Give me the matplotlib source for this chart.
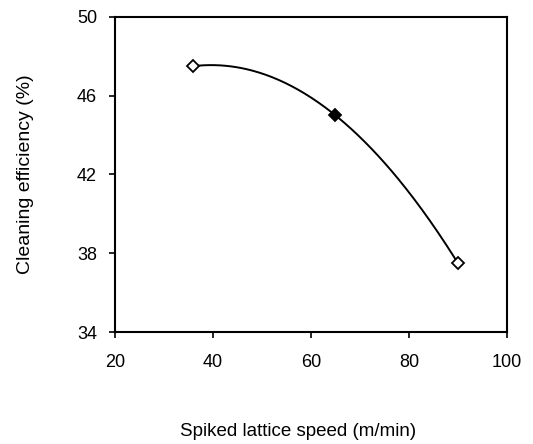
import numpy as np
import matplotlib.pyplot as plt

plt.rcParams['font.family'] = ['Liberation Sans', 'DejaVu Sans']

speed = [36, 65, 90]
efficiency = [47.5, 45.0, 37.5]
filled = [False, True, False]
xticks = [20, 40, 60, 80, 100]
yticks = [34, 38, 42, 46, 50]

fig = plt.figure(figsize=(5.33, 4.44), dpi=100)
ax = fig.add_axes([0.216, 0.252, 0.735, 0.71])

# quadratic trend line through the measured points
coef = np.polyfit(speed, efficiency, 2)
xs = np.linspace(speed[0], speed[-1], 200)
ax.plot(xs, np.polyval(coef, xs), color='black', lw=1.4)

for x, y, f in zip(speed, efficiency, filled):
    ax.plot(x, y, marker='D', ms=6, mec='black', mew=1.3,
            mfc='black' if f else 'white', zorder=3)

ax.set_xlim(20, 100)
ax.set_ylim(34, 50)
ax.set_xticks(xticks)
ax.set_yticks(yticks)
ax.tick_params(labelsize=13, direction='out', length=4, width=1.2)
ax.tick_params(axis='x', pad=12)
ax.tick_params(axis='y', pad=9)
for s in ax.spines.values():
    s.set_linewidth(1.5)

fig.text(0.56, 0.018, 'Spiked lattice speed (m/min)', ha='center', fontsize=13.5)
fig.text(0.032, 0.607, 'Cleaning efficiency (%)', va='center', rotation=90, fontsize=14)

fig.savefig('out.png', dpi=100)
